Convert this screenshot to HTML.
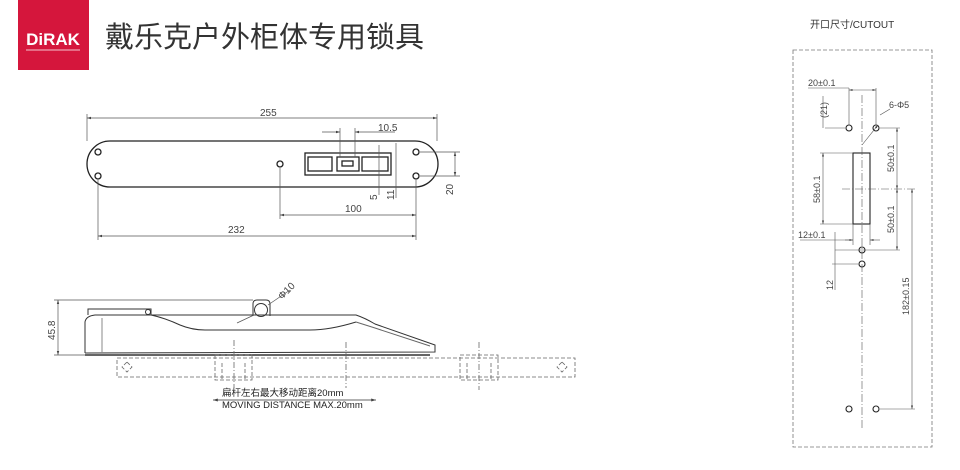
<!DOCTYPE html>
<html><head><meta charset="utf-8"><style>
body{margin:0;background:#fff;width:960px;height:470px;overflow:hidden}
svg{display:block}
text{font-family:"Liberation Sans","Noto Sans CJK SC",sans-serif}
</style></head><body>
<svg width="960" height="470" viewBox="0 0 960 470">
<defs><marker id="a" viewBox="0 0 10 10" refX="10" refY="5" markerWidth="6" markerHeight="6" orient="auto-start-reverse"><path d="M0,2L10,5L0,8z" fill="#444"/></marker></defs>
<rect x="18" y="0" width="71" height="70" fill="#d5163c"/>
<text x="53" y="45" fill="#fff" font-size="17" font-weight="bold" text-anchor="middle">DiRAK</text>
<line x1="26" y1="50" x2="80" y2="50" stroke="#fff" stroke-width="0.8"/>
<text x="105" y="47" font-size="29" fill="#333">戴乐克户外柜体专用锁具</text>
<g fill="none" stroke="#222" stroke-width="1.3">
<rect x="87" y="141" width="351" height="46" rx="23"/>
<rect x="305" y="153" width="86" height="22"/>
<rect x="308" y="157" width="24" height="14"/><rect x="337" y="157" width="22" height="14"/><rect x="342" y="161" width="11" height="5"/><rect x="362" y="157" width="26" height="14"/>
<circle cx="98" cy="152" r="3"/><circle cx="98" cy="176" r="3"/><circle cx="280" cy="164" r="3"/><circle cx="416" cy="152" r="3"/><circle cx="416" cy="176" r="3"/>
</g>
<g stroke="#555" stroke-width="0.7" fill="none">
<line x1="87" y1="118" x2="437" y2="118" marker-start="url(#a)" marker-end="url(#a)"/>
<line x1="87" y1="114" x2="87" y2="141"/><line x1="437" y1="114" x2="437" y2="141"/>
<line x1="322" y1="132" x2="340" y2="132" marker-end="url(#a)"/><line x1="355" y1="132" x2="395" y2="132" marker-start="url(#a)"/>
<line x1="340" y1="128" x2="340" y2="157"/><line x1="355" y1="128" x2="355" y2="157"/>
<line x1="379" y1="145" x2="379" y2="195"/><line x1="396" y1="143" x2="396" y2="198"/>
<line x1="455" y1="152" x2="455" y2="176" marker-start="url(#a)" marker-end="url(#a)"/>
<line x1="420" y1="152" x2="460" y2="152"/><line x1="420" y1="176" x2="460" y2="176"/>
<line x1="280" y1="168" x2="280" y2="219"/><line x1="416" y1="180" x2="416" y2="240"/><line x1="98" y1="180" x2="98" y2="240"/>
<line x1="280" y1="215" x2="416" y2="215" marker-start="url(#a)" marker-end="url(#a)"/>
<line x1="98" y1="236" x2="416" y2="236" marker-start="url(#a)" marker-end="url(#a)"/>
</g>
<g font-size="10" fill="#444">
<text x="260" y="116">255</text><text x="378" y="131">10.5</text><text x="345" y="212">100</text><text x="228" y="233">232</text>
<text transform="translate(377,200) rotate(-90)">5</text><text transform="translate(394,200) rotate(-90)">11</text><text transform="translate(453,195) rotate(-90)">20</text>
<text transform="translate(55,340) rotate(-90)">45.8</text>
<text transform="translate(282,300) rotate(-45)">Φ10</text>
</g>
<!-- side view -->
<g fill="none" stroke="#333" stroke-width="1">
<path d="M85,353 L85,322 Q86,316 95,315 L151,315 L356,315 Q365,318 375,324 L435,345 L435,352 L85,353"/>
<path d="M151,315 Q165,318 180,325 Q192,330 205,330 L310,330 Q330,330 356,322"/>
<path d="M88,315 L88,309 L151,309 L151,315"/>
<circle cx="148" cy="312" r="2.5"/>
<line x1="102" y1="318" x2="102" y2="353" stroke="#888"/>
<path d="M253,316 L253,304 Q253,300 257,300 L266,300 Q270,300 270,304 L270,316"/>
<circle cx="261" cy="310" r="6.5"/>
<line x1="85" y1="355" x2="430" y2="355" stroke-width="1.4"/>
<path d="M356,322 L375,328 L430,346" stroke="#666"/>
</g>
<g stroke="#555" stroke-width="0.7" fill="none">
<line x1="58" y1="300" x2="58" y2="355" marker-start="url(#a)" marker-end="url(#a)"/>
<line x1="54" y1="300" x2="253" y2="300"/><line x1="54" y1="355" x2="85" y2="355"/>
<line x1="237" y1="323" x2="254" y2="315"/><line x1="268" y1="305" x2="290" y2="290"/>
</g>
<g fill="none" stroke="#666" stroke-width="0.8" stroke-dasharray="4,2">
<rect x="117" y="358" width="458" height="19"/>
<rect x="215" y="355" width="37" height="25"/><rect x="460" y="355" width="38" height="25"/>
<line x1="222" y1="363" x2="222" y2="380"/><line x1="245" y1="363" x2="245" y2="380"/><line x1="467" y1="363" x2="467" y2="380"/><line x1="491" y1="363" x2="491" y2="380"/>
<path d="M127,362 L132,367 L127,372 L122,367Z"/><path d="M562,362 L567,367 L562,372 L557,367Z"/>
<line x1="234" y1="340" x2="234" y2="388" stroke-dasharray="6,2,1,2"/><line x1="346" y1="342" x2="346" y2="388" stroke-dasharray="6,2,1,2"/><line x1="479" y1="342" x2="479" y2="390" stroke-dasharray="6,2,1,2"/>
</g>
<line x1="213" y1="400" x2="376" y2="400" stroke="#333" stroke-width="0.8" marker-start="url(#a)" marker-end="url(#a)"/>
<text x="222" y="396" font-size="9.5" fill="#222">扁杆左右最大移动距离20mm</text>
<text x="222" y="408" font-size="9.5" fill="#222">MOVING DISTANCE MAX.20mm</text>
<!-- cutout -->
<text x="810" y="28" font-size="10" fill="#333">开口尺寸/CUTOUT</text>
<rect x="793" y="50" width="139" height="397" fill="none" stroke="#777" stroke-width="0.8" stroke-dasharray="4,2"/>
<g fill="none" stroke="#222" stroke-width="1.1">
<rect x="853" y="153" width="17" height="71"/>
<circle cx="849" cy="128" r="3"/><circle cx="876" cy="128" r="3"/><circle cx="862" cy="250" r="3"/><circle cx="862" cy="264" r="3"/><circle cx="849" cy="409" r="3"/><circle cx="876" cy="409" r="3"/>
</g>
<g stroke="#555" stroke-width="0.6" fill="none">
<line x1="862" y1="95" x2="862" y2="430" stroke-dasharray="8,2,1,2"/>
<line x1="842" y1="189" x2="915" y2="189" stroke-dasharray="8,2,1,2"/>
<line x1="849" y1="88" x2="849" y2="125"/><line x1="876" y1="88" x2="876" y2="125"/>
<line x1="849" y1="90" x2="876" y2="90" marker-start="url(#a)" marker-end="url(#a)"/>
<line x1="808" y1="88" x2="849" y2="88"/>
<line x1="825" y1="128" x2="845" y2="128"/><line x1="880" y1="128" x2="900" y2="128"/>
<line x1="823" y1="96" x2="823" y2="128"/>
<line x1="823" y1="153" x2="823" y2="224" marker-start="url(#a)" marker-end="url(#a)"/>
<line x1="820" y1="153" x2="853" y2="153"/><line x1="820" y1="224" x2="853" y2="224"/>
<line x1="897" y1="128" x2="897" y2="189" marker-start="url(#a)" marker-end="url(#a)"/>
<line x1="897" y1="189" x2="897" y2="250" marker-start="url(#a)" marker-end="url(#a)"/>
<line x1="835" y1="250" x2="900" y2="250"/>
<line x1="912" y1="189" x2="912" y2="409" marker-start="url(#a)" marker-end="url(#a)"/>
<line x1="880" y1="409" x2="915" y2="409"/>
<line x1="800" y1="240" x2="853" y2="240"/>
<line x1="845" y1="240" x2="853" y2="240" marker-end="url(#a)"/><line x1="870" y1="240" x2="880" y2="240" marker-start="url(#a)"/>
<line x1="853" y1="224" x2="853" y2="245"/><line x1="870" y1="224" x2="870" y2="245"/>
<line x1="835" y1="232" x2="835" y2="290"/><line x1="832" y1="264" x2="858" y2="264"/>
<line x1="862" y1="145" x2="878" y2="125" marker-end="url(#a)"/><line x1="880" y1="115" x2="890" y2="109"/>
</g>
<g font-size="9" fill="#444">
<text x="808" y="86">20±0.1</text><text x="889" y="108">6-Φ5</text>
<text transform="translate(827,118) rotate(-90)">(21)</text>
<text transform="translate(820,203) rotate(-90)">58±0.1</text>
<text transform="translate(894,172) rotate(-90)">50±0.1</text>
<text transform="translate(894,233) rotate(-90)">50±0.1</text>
<text transform="translate(909,315) rotate(-90)">182±0.15</text>
<text x="798" y="238">12±0.1</text>
<text transform="translate(833,290) rotate(-90)">12</text>
</g>
</svg>
</body></html>
